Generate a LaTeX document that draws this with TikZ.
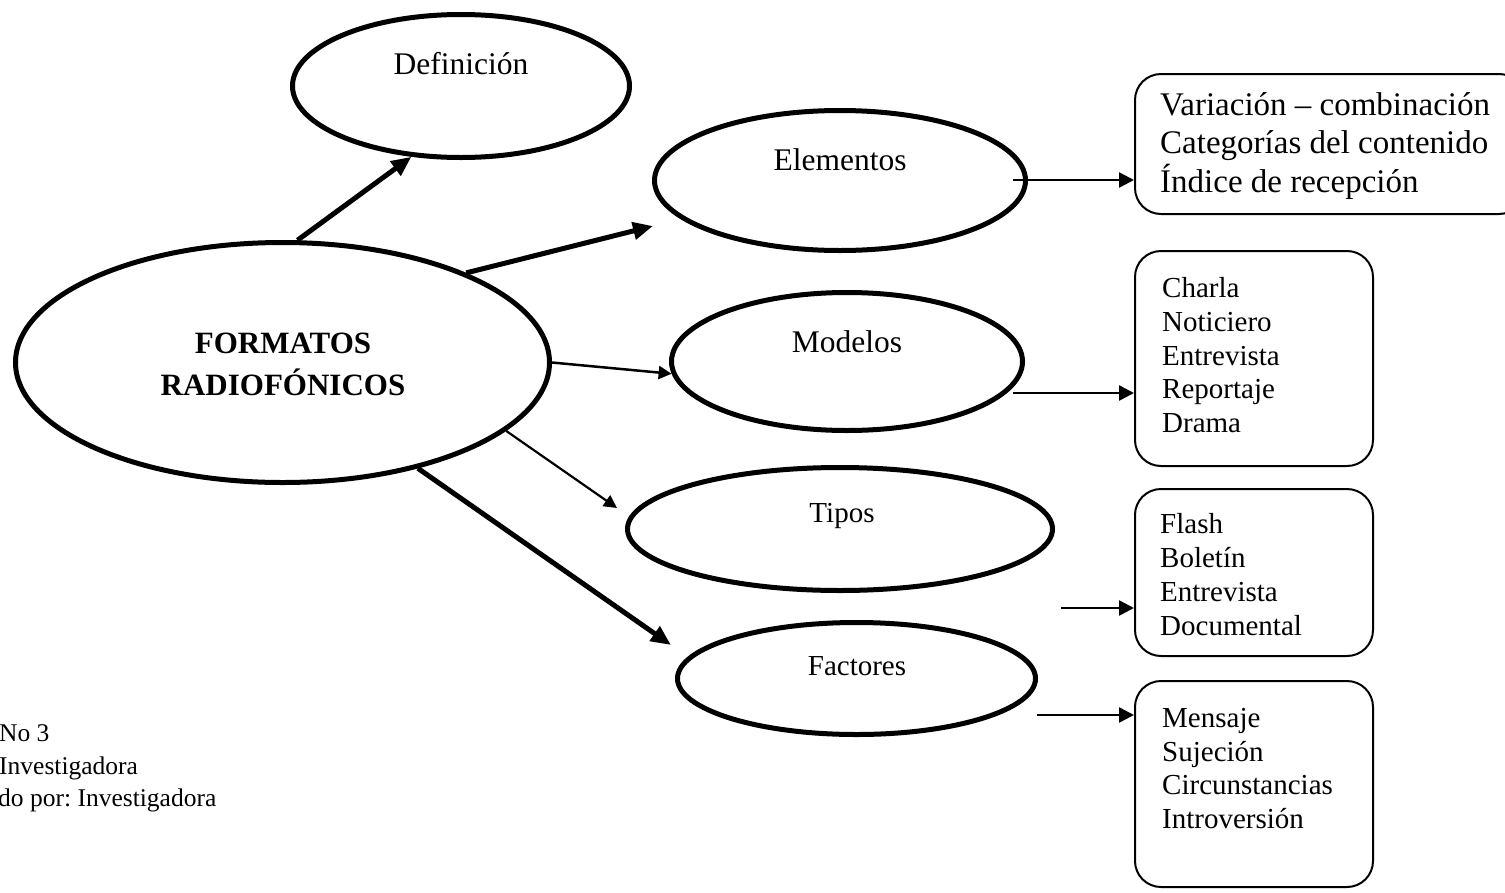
\documentclass[tikz,border=0pt]{standalone}
\usepackage{fontspec}
\setmainfont{Liberation Serif}
\usetikzlibrary{shapes.geometric,arrows.meta}
\frenchspacing
\begin{document}
\begin{tikzpicture}[x=1pt,y=1pt,
  oval/.style={ellipse,draw,line width=5pt,inner sep=0pt},
  olabel/.style={font=\fontsize{31.5}{36}\selectfont,inner sep=0pt,anchor=base},
  slabel/.style={font=\fontsize{29}{34}\selectfont,inner sep=0pt,anchor=base},
  toplabel/.style={font=\bfseries\fontsize{31}{36}\selectfont,inner sep=0pt,anchor=base},
  listbox/.style={draw,line width=2pt,rounded corners=26pt,inner sep=0pt},
  litem/.style={font=\fontsize{29}{34}\selectfont,inner sep=0pt,anchor=base west},
  bitem/.style={font=\fontsize{33}{38}\selectfont,inner sep=0pt,anchor=base west},
  note/.style={font=\fontsize{25.5}{30}\selectfont,inner sep=0pt,anchor=base west},
  heavy/.style={line width=5pt,-{Triangle[length=20pt,width=17pt]}},
  light/.style={line width=2.2pt,-{Triangle[length=13pt,width=13pt]}},
  boxarrow/.style={line width=2.5pt,-{Triangle[length=15pt,width=15pt]}},
]
\useasboundingbox (0,0) rectangle (1505,-892);

% central topic and its branches
\node[oval,minimum width=534pt,minimum height=240pt] (fmt) at (282.5,-362.5) {};
\node[oval,minimum width=337pt,minimum height=143pt] (def) at (461,-86) {};
\node[oval,minimum width=371pt,minimum height=140pt] (ele) at (840,-180.5) {};
\node[oval,minimum width=351pt,minimum height=138pt] (mod) at (847,-361.5) {};
\node[oval,minimum width=425pt,minimum height=123pt] (tip) at (840,-529) {};
\node[oval,minimum width=358pt,minimum height=112pt] (fac) at (856.5,-678.5) {};

\node[toplabel] (fmtA) at (283,-353) {FORMATOS};
\node[toplabel] (fmtB) at (283,-395) {RADIOFÓNICOS};
\node[olabel] (defl) at (461,-74) {Definición};
\node[olabel] (elel) at (840,-170) {Elementos};
\node[olabel] (modl) at (847,-352) {Modelos};
\node[slabel] (tipl) at (842,-522) {Tipos};
\node[slabel] (facl) at (857,-675) {Factores};

% list boxes
\node[listbox,minimum width=390pt,minimum height=140pt] (b1) at (1330,-144) {};
\node[listbox,minimum width=238pt,minimum height=215pt] (b2) at (1254,-358.5) {};
\node[listbox,minimum width=238pt,minimum height=167pt] (b3) at (1254,-572.5) {};
\node[listbox,minimum width=238pt,minimum height=206pt] (b4) at (1254,-784) {};

\node[bitem] (b1a) at (1160,-115) {Variación – combinación};
\node[bitem] (b1b) at (1160,-153) {Categorías del contenido};
\node[bitem] (b1c) at (1160,-192) {Índice de recepción};

\node[litem] (b2a) at (1162,-297) {Charla};
\node[litem] (b2b) at (1162,-331) {Noticiero};
\node[litem] (b2c) at (1162,-365) {Entrevista};
\node[litem] (b2d) at (1162,-398) {Reportaje};
\node[litem] (b2e) at (1162,-432) {Drama};

\node[litem] (b3a) at (1160,-533) {Flash};
\node[litem] (b3b) at (1160,-567) {Boletín};
\node[litem] (b3c) at (1160,-601) {Entrevista};
\node[litem] (b3d) at (1160,-635) {Documental};

\node[litem] (b4a) at (1162,-727) {Mensaje};
\node[litem] (b4b) at (1162,-761) {Sujeción};
\node[litem] (b4c) at (1162,-794) {Circunstancias};
\node[litem] (b4d) at (1162,-828) {Introversión};

% source note
\node[note] (n1) at (-1,-741) {No 3};
\node[note] (n2) at (-1,-774) {Investigadora};
\node[note] (n3) at (-2,-806) {do por: Investigadora};

% connectors from the central topic
\coordinate (eleIn) at (653,-226);
\coordinate (tipIn) at (617,-508);
\coordinate (facIn) at (671,-645);
\draw[heavy] (fmt.83) -- (def.235);
\draw[heavy] (fmt.26) -- (eleIn);
\draw[light,line width=2.5pt] (fmt.-0.5) -- (mod.184);
\draw[light] (fmt.-17) -- (tipIn);
\draw[heavy] (fmt.-38) -- (facIn);

% connectors into the list boxes
\coordinate (eleOut) at (1013,-180);
\coordinate (modOut) at (1013,-393);
\coordinate (tipOut) at (1061,-608);
\coordinate (facOut) at (1037,-715);
\draw[boxarrow] (eleOut) -- (eleOut -| b1.west);
\draw[boxarrow] (modOut) -- (modOut -| b2.west);
\draw[boxarrow] (tipOut) -- (tipOut -| b3.west);
\draw[boxarrow] (facOut) -- (facOut -| b4.west);
\end{tikzpicture}
\end{document}
